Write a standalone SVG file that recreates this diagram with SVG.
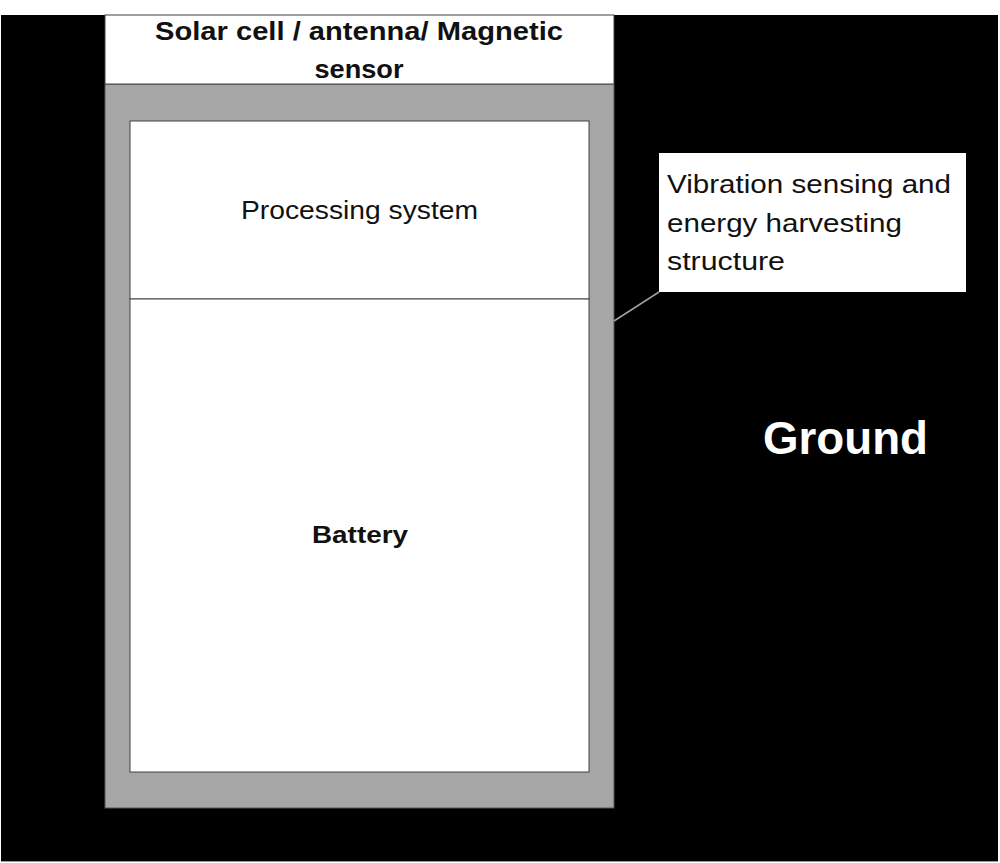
<svg xmlns="http://www.w3.org/2000/svg" width="1000" height="863" viewBox="0 0 1000 863">
<style>
.lbl{font-family:"Liberation Sans",Arial,sans-serif;fill:#111;}
.b{font-weight:bold;}
.box{fill:#fff;stroke:#404040;stroke-width:1;}
</style>
<rect x="0" y="0" width="1000" height="863" fill="#fff"/>
<rect id="ground-bg" x="1" y="15" width="997" height="846" fill="#000"/>
<line x1="1" y1="861.5" x2="998" y2="861.5" stroke="#9a9a9a" stroke-width="1"/>
<g id="housing">
<rect x="105" y="84" width="509" height="724" fill="#a6a6a6" stroke="#555" stroke-width="1"/>
</g>
<g id="solar-cell">
<rect x="105" y="15" width="509" height="69" class="box"/>
<text class="lbl b" x="359" y="40" font-size="26" text-anchor="middle" textLength="408" lengthAdjust="spacingAndGlyphs">Solar cell / antenna/ Magnetic</text>
<text class="lbl b" x="359" y="78" font-size="26" text-anchor="middle" textLength="89" lengthAdjust="spacingAndGlyphs">sensor</text>
</g>
<g id="processing">
<rect x="130" y="121" width="459" height="178" class="box"/>
<text class="lbl" x="359.5" y="219" font-size="26" text-anchor="middle" textLength="237" lengthAdjust="spacingAndGlyphs">Processing system</text>
</g>
<g id="battery">
<rect x="130" y="299" width="459" height="473" class="box"/>
<text class="lbl b" x="360" y="543" font-size="23" text-anchor="middle" textLength="96" lengthAdjust="spacingAndGlyphs">Battery</text>
</g>
<g id="connectors">
<line x1="614" y1="321" x2="659" y2="292" stroke="#a0a0a0" stroke-width="1.5"/>
</g>
<g id="vibration-callout">
<rect x="659" y="153" width="307" height="139" fill="#fff"/>
<text class="lbl" x="667" y="193" font-size="25" textLength="284" lengthAdjust="spacingAndGlyphs">Vibration sensing and</text>
<text class="lbl" x="667" y="232" font-size="25" textLength="235" lengthAdjust="spacingAndGlyphs">energy harvesting</text>
<text class="lbl" x="667" y="270" font-size="25" textLength="118" lengthAdjust="spacingAndGlyphs">structure</text>
</g>
<g id="ground">
<text x="845.5" y="454" font-family="'Liberation Sans',Arial,sans-serif" font-weight="bold" font-size="47" fill="#fff" text-anchor="middle" textLength="165" lengthAdjust="spacingAndGlyphs">Ground</text>
</g>
</svg>
